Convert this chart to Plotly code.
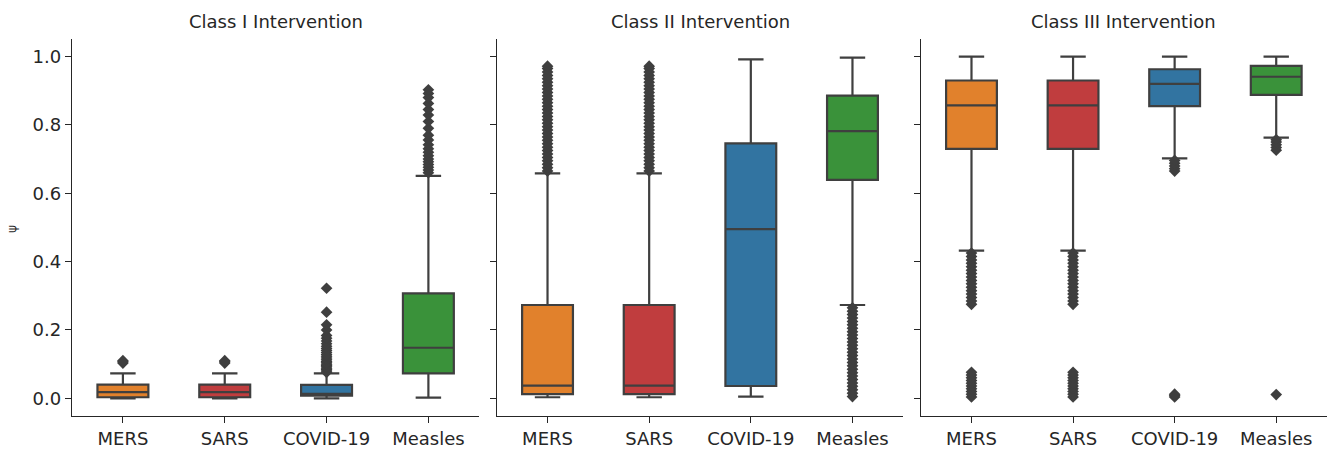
import plotly.graph_objects as go

# ---------------- data ----------------
panels = ["Class I Intervention", "Class II Intervention", "Class III Intervention"]
diseases = ["MERS", "SARS", "COVID-19", "Measles"]
colors = ["#e1812c", "#c03d3e", "#3274a1", "#3a923a"]
y_ticks = [0.0, 0.2, 0.4, 0.6, 0.8, 1.0]
y_ticktext = ["0.0", "0.2", "0.4", "0.6", "0.8", "1.0"]

# box statistics per panel, order: MERS, SARS, COVID-19, Measles
c1_lower = [0.000, 0.000, 0.000, 0.002]
c1_q1 = [0.003, 0.003, 0.008, 0.073]
c1_median = [0.018, 0.018, 0.013, 0.148]
c1_q3 = [0.040, 0.040, 0.039, 0.307]
c1_upper = [0.073, 0.073, 0.073, 0.651]

c2_lower = [0.003, 0.003, 0.005, 0.273]
c2_q1 = [0.012, 0.012, 0.036, 0.639]
c2_median = [0.037, 0.037, 0.495, 0.782]
c2_q3 = [0.273, 0.273, 0.746, 0.886]
c2_upper = [0.658, 0.658, 0.992, 0.997]

c3_lower = [0.432, 0.432, 0.702, 0.763]
c3_q1 = [0.730, 0.730, 0.855, 0.888]
c3_median = [0.857, 0.857, 0.920, 0.941]
c3_q3 = [0.930, 0.930, 0.963, 0.973]
c3_upper = [1.000, 1.000, 1.000, 1.000]

# outliers
c1_mers_out = [0.103, 0.107, 0.110]
c1_sars_out = [0.103, 0.107, 0.110]
c1_covid_out = [0.076, 0.080, 0.084, 0.088, 0.092, 0.096, 0.100, 0.104, 0.108, 0.113,
                0.118, 0.123, 0.128, 0.134, 0.140, 0.146, 0.152, 0.160, 0.168, 0.176,
                0.184, 0.200, 0.215, 0.252, 0.322]
c1_measles_out = [0.660, 0.668, 0.676, 0.684, 0.692, 0.700, 0.710, 0.720, 0.730, 0.742,
                  0.756, 0.770, 0.790, 0.810, 0.829, 0.845, 0.863, 0.880, 0.892, 0.903]

c2_mers_out = [0.665, 0.675, 0.685, 0.695, 0.705, 0.715, 0.725, 0.735, 0.745, 0.755,
               0.765, 0.775, 0.785, 0.795, 0.805, 0.815, 0.825, 0.835, 0.845, 0.855,
               0.865, 0.875, 0.885, 0.895, 0.905, 0.915, 0.925, 0.935, 0.945, 0.955,
               0.965, 0.972]
c2_sars_out = [0.665, 0.675, 0.685, 0.695, 0.705, 0.715, 0.725, 0.735, 0.745, 0.755,
               0.765, 0.775, 0.785, 0.795, 0.805, 0.815, 0.825, 0.835, 0.845, 0.855,
               0.865, 0.875, 0.885, 0.895, 0.905, 0.915, 0.925, 0.935, 0.945, 0.955,
               0.965, 0.972]
c2_covid_out = []
c2_measles_out = [0.005, 0.015, 0.025, 0.035, 0.045, 0.055, 0.065, 0.075, 0.085, 0.095,
                  0.105, 0.115, 0.125, 0.135, 0.145, 0.155, 0.165, 0.175, 0.185, 0.195,
                  0.205, 0.215, 0.225, 0.235, 0.245, 0.255, 0.265]

c3_mers_out = [0.004, 0.012, 0.020, 0.028, 0.036, 0.044, 0.052, 0.060, 0.068, 0.076,
               0.275, 0.285, 0.295, 0.305, 0.315, 0.325, 0.335, 0.345, 0.355, 0.365,
               0.375, 0.385, 0.395, 0.405, 0.415, 0.425]
c3_sars_out = [0.004, 0.012, 0.020, 0.028, 0.036, 0.044, 0.052, 0.060, 0.068, 0.076,
               0.275, 0.285, 0.295, 0.305, 0.315, 0.325, 0.335, 0.345, 0.355, 0.365,
               0.375, 0.385, 0.395, 0.405, 0.415, 0.425]
c3_covid_out = [0.004, 0.008, 0.012, 0.665, 0.672, 0.680, 0.688, 0.696]
c3_measles_out = [0.011, 0.726, 0.734, 0.742, 0.750, 0.757]

stats = [
    (c1_lower, c1_q1, c1_median, c1_q3, c1_upper,
     [c1_mers_out, c1_sars_out, c1_covid_out, c1_measles_out]),
    (c2_lower, c2_q1, c2_median, c2_q3, c2_upper,
     [c2_mers_out, c2_sars_out, c2_covid_out, c2_measles_out]),
    (c3_lower, c3_q1, c3_median, c3_q3, c3_upper,
     [c3_mers_out, c3_sars_out, c3_covid_out, c3_measles_out]),
]

# ---------------- layout geometry ----------------
W, H = 1327, 449
x_domains = [[72 / W, 479.3 / W], [496.7 / W, 903.3 / W], [920.7 / W, 1.0]]
y_domain = [1 - 416 / H, 1 - 39.3 / H]
y_range = [-0.0518, 1.0506]
text_col = "#262626"
line_col = "#3f3f3f"
font_family = "DejaVu Sans"

fig = go.Figure()

for p, (lo, q1, med, q3, up, outs) in enumerate(stats):
    xa = "x" if p == 0 else f"x{p + 1}"
    ya = "y" if p == 0 else f"y{p + 1}"
    for i, name in enumerate(diseases):
        fig.add_trace(go.Box(
            x=[i], q1=[q1[i]], median=[med[i]], q3=[q3[i]],
            lowerfence=[lo[i]], upperfence=[up[i]],
            width=0.5, whiskerwidth=0.5,
            fillcolor=colors[i],
            line=dict(color=line_col, width=2.2),
            boxpoints=False, name=name, showlegend=False,
            xaxis=xa, yaxis=ya,
        ))
        if outs[i]:
            fig.add_trace(go.Scatter(
                x=[i] * len(outs[i]), y=outs[i], mode="markers",
                marker=dict(symbol="diamond", size=9, color=line_col,
                            line=dict(width=0)),
                showlegend=False, xaxis=xa, yaxis=ya, hoverinfo="y",
            ))

axis_common = dict(
    showline=True, linecolor=text_col, linewidth=1.3,
    ticks="outside", ticklen=6, tickwidth=1.3, tickcolor=text_col,
    showgrid=False, zeroline=False, automargin=False,
    tickfont=dict(family=font_family, size=18, color=text_col),
)

layout = dict(
    width=W, height=H,
    margin=dict(l=0, r=0, t=0, b=0),
    paper_bgcolor="white", plot_bgcolor="white",
    font=dict(family=font_family, color=text_col),
    annotations=[],
)

for p in range(3):
    xk = "xaxis" if p == 0 else f"xaxis{p + 1}"
    yk = "yaxis" if p == 0 else f"yaxis{p + 1}"
    layout[xk] = dict(axis_common, domain=x_domains[p], range=[-0.5, 3.5],
                      tickmode="array", tickvals=[0, 1, 2, 3], ticktext=diseases,
                      anchor="y" if p == 0 else f"y{p + 1}")
    layout[yk] = dict(axis_common, domain=y_domain, range=y_range,
                      tickmode="array", tickvals=y_ticks, ticktext=y_ticktext,
                      showticklabels=(p == 0),
                      anchor="x" if p == 0 else f"x{p + 1}")
    layout["annotations"].append(dict(
        text=panels[p], xref="paper", yref="paper",
        x=(x_domains[p][0] + x_domains[p][1]) / 2, y=1 - 21.7 / H,
        xanchor="center", yanchor="middle", showarrow=False,
        font=dict(family=font_family, size=18, color=text_col),
    ))

layout["annotations"].append(dict(
    text="ψ", xref="paper", yref="paper", x=11.5 / W, y=1 - 229.5 / H,
    xanchor="center", yanchor="middle", showarrow=False, textangle=-90,
    font=dict(family=font_family, size=12, color=text_col),
))

fig.update_layout(**layout)
fig.write_html(
    "out.html",
    config={"displayModeBar": False},
    post_script="document.body.style.margin='0';document.body.style.overflow='hidden';",
)
